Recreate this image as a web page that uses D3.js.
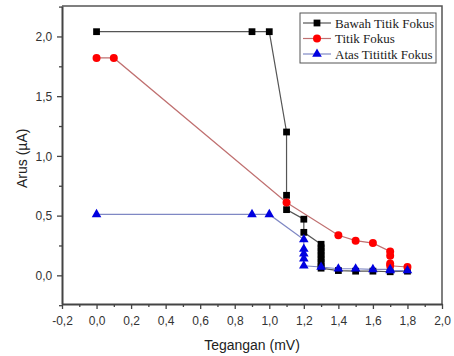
<!DOCTYPE html>
<html>
<head>
<meta charset="utf-8">
<script src="https://cdn.jsdelivr.net/npm/d3@7"></script>
<style>
  body { margin: 0; background: #fff; }
  svg { display: block; }
</style>
</head>
<body>
<div id="chart"></div>
<script>
// -- data --

var seriesNames = ["Bawah Titik Fokus", "Titik Fokus", "Atas Titititk Fokus"];

var bawahX = [0, 0.9, 1.0, 1.1, 1.1, 1.1, 1.2, 1.2, 1.3, 1.3, 1.3, 1.3, 1.3, 1.3, 1.3, 1.3, 1.4, 1.5, 1.6, 1.7, 1.8];
var bawahY = [2.04, 2.04, 2.04, 1.20, 0.67, 0.55, 0.47, 0.36, 0.26, 0.23, 0.20, 0.17, 0.14, 0.11, 0.08, 0.06, 0.04, 0.035, 0.035, 0.03, 0.035];

var titikX = [0, 0.1, 1.1, 1.4, 1.5, 1.6, 1.7, 1.7, 1.7, 1.7, 1.8];
var titikY = [1.82, 1.82, 0.61, 0.335, 0.29, 0.27, 0.20, 0.165, 0.10, 0.08, 0.07];

var atasX = [0, 0.9, 1.0, 1.2, 1.2, 1.2, 1.2, 1.2, 1.3, 1.4, 1.5, 1.6, 1.7, 1.7, 1.8];
var atasY = [0.51, 0.51, 0.51, 0.30, 0.22, 0.18, 0.14, 0.08, 0.07, 0.055, 0.055, 0.05, 0.05, 0.04, 0.04];

var xTicks = [-0.2, 0, 0.2, 0.4, 0.6, 0.8, 1.0, 1.2, 1.4, 1.6, 1.8, 2.0];
var yTicks = [0, 0.5, 1.0, 1.5, 2.0];

// -- layout --

var width = 454, height = 356;
var pLeft = 62, pRight = 442, pTop = 6, pBottom = 304;

var svg = d3.select("#chart").append("svg")
    .attr("width", width)
    .attr("height", height);

var x = d3.scaleLinear().domain([-0.2, 2.0]).range([pLeft, pRight]);
var y = d3.scaleLinear().domain([-0.24, 2.255]).range([pBottom, pTop]);

var fmt = function (d) { return d.toFixed(1).replace(".", ","); };

// frame (top + right)
svg.append("path")
    .attr("d", "M" + pLeft + "," + pTop + "H" + pRight + "V" + pBottom)
    .style("fill", "none")
    .style("stroke", "#555")
    .style("stroke-width", 1.5);

// x axis
var xAxis = svg.append("g")
    .attr("transform", "translate(0," + pBottom + ")")
    .call(d3.axisBottom(x).tickValues(xTicks).tickFormat(fmt).tickSize(5).tickSizeOuter(0));

svg.append("g")
    .attr("transform", "translate(0," + pBottom + ")")
    .call(d3.axisBottom(x).tickValues(d3.range(-0.1, 2.0, 0.2)).tickFormat("").tickSize(3).tickSizeOuter(0))
    .select(".domain").remove();

// y axis
var yAxis = svg.append("g")
    .attr("transform", "translate(" + pLeft + ",0)")
    .call(d3.axisLeft(y).tickValues(yTicks).tickFormat(fmt).tickSize(5).tickSizeOuter(0));

svg.append("g")
    .attr("transform", "translate(" + pLeft + ",0)")
    .call(d3.axisLeft(y).tickValues([-0.25, 0.25, 0.75, 1.25, 1.75, 2.25]).tickFormat("").tickSize(3).tickSizeOuter(0))
    .select(".domain").remove();

svg.selectAll(".domain")
    .style("stroke", "#444")
    .style("stroke-width", 2);
svg.selectAll(".tick line")
    .style("stroke", "#444")
    .style("stroke-width", 1.3);
svg.selectAll(".tick text")
    .style("font-family", "'Liberation Sans', Arial, sans-serif")
    .style("font-size", "12px")
    .style("fill", "#333");
xAxis.selectAll(".tick text").attr("dy", "1.05em");
yAxis.selectAll(".tick text").attr("dx", "-0.15em").attr("dy", "0.36em");

// axis titles
svg.append("text")
    .attr("x", (pLeft + pRight) / 2).attr("y", 350)
    .attr("text-anchor", "middle")
    .style("font-family", "'Liberation Sans', Arial, sans-serif")
    .style("font-size", "14px")
    .style("fill", "#222")
    .text("Tegangan (mV)");

svg.append("text")
    .attr("transform", "translate(27," + y(0.98) + ") rotate(-90)")
    .attr("text-anchor", "middle")
    .style("font-family", "'Liberation Sans', Arial, sans-serif")
    .style("font-size", "14px")
    .style("fill", "#222")
    .text("Arus (\u00b5A)");

// -- series --

var series = [
    {name: seriesNames[0], xs: bawahX, ys: bawahY, line: "#555", fill: "#000", symbol: d3.symbolSquare, size: 46},
    {name: seriesNames[1], xs: titikX, ys: titikY, line: "#c07070", fill: "#f00", symbol: d3.symbolCircle, size: 50},
    {name: seriesNames[2], xs: atasX, ys: atasY, line: "#7f88c4", fill: "#0000e0", symbol: d3.symbolTriangle, size: 40}
];

var line = d3.line()
    .x(function (d) { return x(d[0]); })
    .y(function (d) { return y(d[1]); });

series.forEach(function (s) {
    var pts = s.xs.map(function (v, i) { return [v, s.ys[i]]; });
    svg.append("path")
        .datum(pts)
        .attr("d", line)
        .style("fill", "none")
        .style("stroke", s.line)
        .style("stroke-width", 1.2);
});

series.forEach(function (s) {
    var pts = s.xs.map(function (v, i) { return [v, s.ys[i]]; });
    svg.append("g").selectAll("path")
        .data(pts)
        .enter().append("path")
        .attr("transform", function (d) { return "translate(" + x(d[0]) + "," + y(d[1]) + ")"; })
        .attr("d", d3.symbol().type(s.symbol).size(s.size))
        .style("fill", s.fill);
});

// -- legend --

var lg = svg.append("g").attr("transform", "translate(300,13)");
lg.append("rect")
    .attr("width", 136).attr("height", 50)
    .style("fill", "#fff")
    .style("stroke", "#555")
    .style("stroke-width", 1);

series.forEach(function (s, i) {
    var ly = 10 + i * 15.5;
    lg.append("line")
        .attr("x1", 3).attr("x2", 31)
        .attr("y1", ly).attr("y2", ly)
        .style("stroke", s.line)
        .style("stroke-width", 1.2);
    lg.append("path")
        .attr("transform", "translate(17," + ly + ")")
        .attr("d", d3.symbol().type(s.symbol).size(s.size))
        .style("fill", s.fill);
    lg.append("text")
        .attr("x", 35).attr("y", ly + 4.5)
        .style("font-family", "'Liberation Serif', 'Times New Roman', serif")
        .style("font-size", "13px")
        .style("fill", "#222")
        .text(s.name);
});
</script>
</body>
</html>
